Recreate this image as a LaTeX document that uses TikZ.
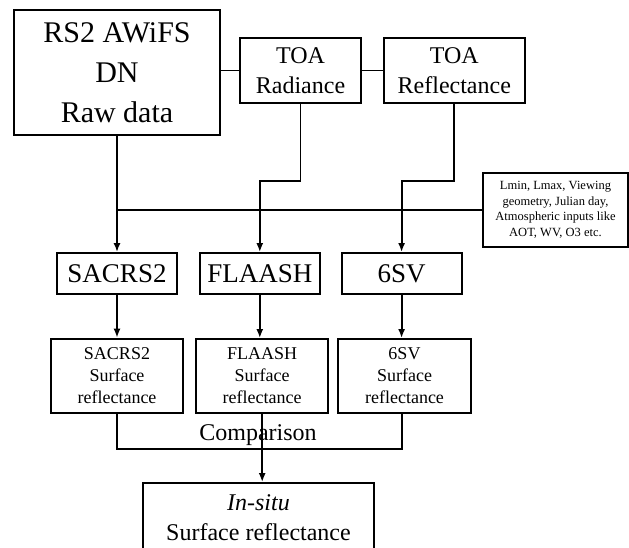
\documentclass[tikz,border=0pt]{standalone}
\usepackage{fontspec}
\setmainfont{Liberation Serif}
\usetikzlibrary{arrows.meta,positioning}

\begin{document}
\begin{tikzpicture}[x=1pt,y=-1pt,>={Latex[length=9pt,width=7pt]},line width=1.8pt]
	\tikzset{block/.style={draw, shape=rectangle, align=center, inner sep=0pt},
		rawblock/.style={block, minimum width=206pt, minimum height=125pt, font=\fontsize{30}{40}\selectfont},
		toablock/.style={block, minimum height=65pt, font=\fontsize{24}{30}\selectfont},
		algblock/.style={block, minimum width=120pt, minimum height=41pt, font=\fontsize{27}{30}\selectfont},
		outblock/.style={block, minimum width=132pt, minimum height=74pt, font=\fontsize{18}{22}\selectfont},
		parblock/.style={block, minimum width=145pt, minimum height=74pt, font=\fontsize{12.5}{15.5}\selectfont},
	}
	\useasboundingbox (0,0) rectangle (629,548);
	\node [rawblock] (raw) at (117,72.5) {RS2 AWiFS\\DN\\Raw data};
	\node [toablock, minimum width=121pt] (rad) at (300.5,70.5) {TOA\\Radiance};
	\node [toablock, minimum width=141pt, right = 21pt of rad] (refl) {TOA\\Reflectance};
	\node [parblock] (par) at (555.5,210) {Lmin, Lmax, Viewing\\geometry, Julian day,\\Atmospheric inputs like\\AOT, WV, O3 etc.};
	\node [algblock] (sacrs) at (117,273.5) {SACRS2};
	\node [algblock, right = 21pt of sacrs] (flaash) {FLAASH};
	\node [algblock, right = 20pt of flaash] (sixsv) {6SV};
	\node [outblock, line width=2.6pt] (sacrsout) at (117,376) {SACRS2\\Surface\\reflectance};
	\node [outblock, right = 11pt of sacrsout] (flaashout) {FLAASH\\Surface\\reflectance};
	\node [outblock, minimum width=133pt, right = 8pt of flaashout] (sixsvout) {6SV\\Surface\\reflectance};
	\node [block, minimum width=231pt, minimum height=69pt, font=\fontsize{24}{30}\selectfont] (insitu) at (258.5,517.5) {\textit{In-situ}\\Surface reflectance};
	\node [font=\fontsize{24}{30}\selectfont, inner sep=0pt] (cmp) at (258,435) {Comparison};
	% top row links
	\draw (rad.west) -- (rad.west -| raw.east);
	\draw (rad.east) -- (refl.west);
	% inputs to the models
	\draw [->] (raw.south) -- (raw.south |- sacrs.north);
	\draw (par.west) -- (par.west -| raw.south);
	\draw [->] (rad.south) -- ++(0,77) -| (flaash.north);
	\draw [->] (refl.south) -- ++(0,77) -| (sixsv.north);
	\draw [->] (sacrs.south) -- (sacrs.south |- sacrsout.north);
	\draw [->] (flaash.south) -- (flaash.south |- flaashout.north);
	\draw [->] (sixsv.south) -- (sixsv.south |- sixsvout.north);
	% comparison
	\draw (sacrsout.south) -- ++(0,35) -| (sixsvout.south -| sixsv.south);
	\draw [->] (flaashout.south) -- (flaashout.south |- insitu.north);
\end{tikzpicture}
\end{document}
